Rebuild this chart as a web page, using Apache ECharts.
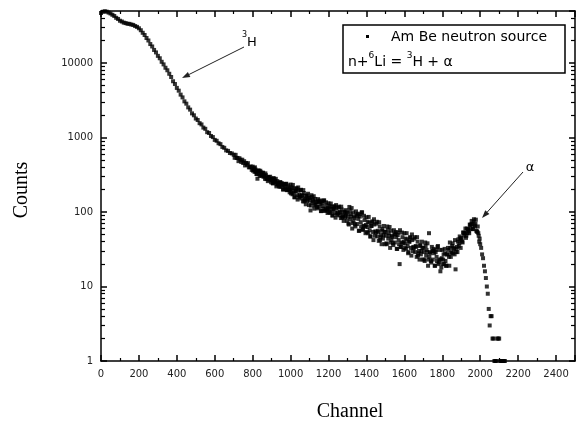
<!DOCTYPE html>
<html><head><meta charset="utf-8">
<script src="https://cdn.jsdelivr.net/npm/echarts@6/dist/echarts.min.js"></script>
<style>html,body{margin:0;padding:0;background:#fff}#c{width:577px;height:423px}</style>
</head><body><div id="c"></div>
<script>
// Channel 0..690, every 10 channels
const startA = 0, stepA = 10;
const countsA = [47000,48800,49600,49000,47600,46300,44500,42900,40500,39100,
  37000,36100,34900,34400,33700,33600,32900,32500,31400,30600,
  29300,27600,25500,23800,21700,20100,18000,16700,15000,13900,
  12500,11600,10400,9600,8650,8000,7180,6500,5700,5230,
  4640,4260,3770,3460,3060,2850,2540,2370,2110,1990,
  1800,1720,1560,1500,1360,1310,1180,1150,1050,1015,
  930,905,838,816,748,728,672,662,620,612];
// Channel 700..2130, every 5 channels
const startB = 700, stepB = 5;
const countsB = [
  587,535,586,532,533,482,528,504,470,504,
  455,481,422,456,432,453,398,400,409,368,
  407,370,346,372,324,280,361,325,358,308,
  310,336,309,279,312,281,260,295,275,280,
  278,245,286,250,255,221,260,245,223,253,
  219,243,201,232,217,238,197,203,214,184,
  234,193,173,206,158,192,209,168,214,157,
  163,199,168,139,180,145,127,167,147,157,
  154,105,168,133,140,111,150,136,117,149,
  117,143,103,133,120,143,104,110,123,97,
  131,109,97,117,90,110,120,97,124,92,
  96,118,100,83,108,87,76,101,89,95,
  98,70,117,80,87,60,99,87,68,102,
  69,95,56,87,73,99,58,65,78,52,
  85,63,52,72,47,65,75,54,80,48,
  53,74,56,41,64,46,37,59,49,54,
  54,38,64,44,48,33,56,48,38,57,
  39,54,32,49,42,20,34,39,46,31,
  52,38,32,43,28,40,46,33,50,30,
  33,46,35,25,40,28,23,36,30,33,
  33,23,39,26,29,19,52,29,22,34,
  23,32,19,29,25,34,20,23,16,18,
  31,23,20,28,19,27,33,25,39,25,
  29,38,33,27,17,32,29,43,38,44,
  45,40,53,48,52,45,60,59,55,68,
  60,76,59,74,66,70,56,54,52,40,
  37,33,27,24,19,16,13,10,8,5,
  3,4,4,2,2,1,1,1,2,2,
  2,1,1,1,1,1,1];
// Channel 802..1997, every 5 channels (interleaved readings)
const startC = 802, stepC = 5;
const countsC = [
  359,387,398,349,325,353,359,305,343,319,
  337,297,306,330,277,286,294,272,298,251,
  266,242,279,265,279,234,236,243,218,247,
  240,231,201,238,207,240,197,228,200,202,
  178,213,231,180,158,192,205,147,194,170,
  196,152,165,197,139,151,164,141,176,124,
  142,122,159,147,163,123,125,134,112,140,
  136,129,103,139,111,143,104,135,109,113,
  100,120,130,102,90,110,117,84,112,99,
  115,90,98,118,84,90,99,85,106,76,
  86,68,105,94,113,71,75,83,64,92,
  89,81,56,93,64,99,58,89,64,67,
  54,74,86,57,47,65,73,42,68,55,
  70,47,54,73,42,49,56,44,65,37,
  48,37,58,52,63,39,42,46,36,51,
  50,46,32,53,37,57,34,53,38,40,
  33,44,52,35,29,40,45,26,42,34,
  44,29,34,46,26,30,35,27,40,23,
  29,22,35,31,38,23,25,28,21,30,
  30,28,19,31,22,35,21,31,23,24,
  20,27,32,22,19,27,31,19,33,28,
  35,28,32,42,29,34,40,35,47,33,
  42,39,53,52,60,48,52,58,52,67,
  68,69,59,80,64,79,55,64,48,44];
const seriesName = 'Am Be neutron source';
const yMin = 1, yMax = 50000;

const data = [];
countsA.forEach((v, i) => data.push([startA + i * stepA, v]));
countsB.forEach((v, i) => data.push([startB + i * stepB, v]));
countsC.forEach((v, i) => data.push([startC + i * stepC, v]));

const lineSt = {color: '#000', width: 1.5};
const lblFont = {fontFamily: 'DejaVu Sans', fontSize: 10, color: '#222', formatter: v => String(v)};

function xAx(pos, labels) {
  return {type: 'value', position: pos, min: 0, max: 2500, interval: 200,
    axisLine: {show: true, onZero: false, lineStyle: lineSt},
    axisTick: {show: true, inside: true, length: 6, lineStyle: {color: '#000', width: 1.5}},
    minorTick: {show: true, splitNumber: 2, length: 3, lineStyle: {color: '#000', width: 1.2}},
    axisLabel: Object.assign({show: labels, margin: 8, showMaxLabel: false}, lblFont),
    splitLine: {show: false}, minorSplitLine: {show: false}};
}
function yAx(pos, labels) {
  return {type: 'log', logBase: 10, position: pos, min: yMin, max: yMax,
    axisLine: {show: true, onZero: false, lineStyle: lineSt},
    axisTick: {show: true, inside: true, length: 6, lineStyle: {color: '#000', width: 1.5}},
    minorTick: {show: true, splitNumber: 9, length: 4, lineStyle: {color: '#000', width: 1.2}},
    axisLabel: Object.assign({show: labels, margin: 8, showMaxLabel: false}, lblFont),
    splitLine: {show: false}, minorSplitLine: {show: false}};
}

function arrow(x1, y1, x2, y2) {
  const dx = x2 - x1, dy = y2 - y1, len = Math.hypot(dx, dy);
  const ux = dx / len, uy = dy / len, bx = x2 - 8 * ux, by = y2 - 8 * uy, px = -uy * 2.8, py = ux * 2.8;
  return [
    {type: 'line', shape: {x1: x1, y1: y1, x2: bx, y2: by}, style: {stroke: '#222', lineWidth: 1}},
    {type: 'polygon', shape: {points: [[x2, y2], [bx + px, by + py], [bx - px, by - py]]}, style: {fill: '#222'}}
  ];
}

const chart = echarts.init(document.getElementById('c'), null, {renderer: 'canvas'});
chart.setOption({
  animation: false,
  backgroundColor: '#fff',
  grid: {left: 101, right: 2, top: 11, bottom: 62},
  xAxis: [xAx('bottom', true), xAx('top', false)],
  yAxis: [yAx('left', true), yAx('right', false)],
  series: [{
    name: seriesName, type: 'scatter', xAxisIndex: 0, yAxisIndex: 0,
    symbol: 'rect', symbolSize: 4, itemStyle: {color: '#000'}, data: data, silent: true
  }],
  graphic: [
    {type: 'rect', shape: {x: 343, y: 25, width: 222, height: 48}, style: {fill: '#fff', stroke: '#000', lineWidth: 1.5}, z: 10},
    {type: 'rect', shape: {x: 366, y: 35, width: 3, height: 3}, style: {fill: '#000'}, z: 11},
    {type: 'text', x: 391, y: 37, z: 11, style: {text: seriesName, fontFamily: 'DejaVu Sans', fontSize: 14, fill: '#000', verticalAlign: 'middle'}},
    {type: 'text', x: 348, y: 60, z: 11, style: {
      text: '{a|n+}{s|6}{a|Li = }{s|3}{a|H + α}', verticalAlign: 'middle',
      rich: {a: {fontFamily: 'DejaVu Sans', fontSize: 14, fill: '#000', lineHeight: 18, verticalAlign: 'bottom'},
             s: {fontFamily: 'DejaVu Sans', fontSize: 9, fill: '#000', lineHeight: 18, verticalAlign: 'top'}}}},
    {type: 'text', x: 242, y: 40, z: 11, style: {
      text: '{s|3}{a|H}', verticalAlign: 'middle',
      rich: {a: {fontFamily: 'DejaVu Sans', fontSize: 13, fill: '#000', lineHeight: 18, verticalAlign: 'bottom'},
             s: {fontFamily: 'DejaVu Sans', fontSize: 8, fill: '#000', lineHeight: 18, verticalAlign: 'top'}}}},
    {type: 'text', x: 530, y: 168, z: 11, style: {text: 'α', fontFamily: 'DejaVu Sans', fontSize: 13, fill: '#000', align: 'center', verticalAlign: 'middle'}},
    ...arrow(244, 47, 182, 78),
    ...arrow(523, 172, 482, 218),
    {type: 'text', x: 22, y: 190, rotation: Math.PI / 2, style: {text: 'Counts', fontFamily: 'Liberation Serif', fontSize: 20, fill: '#000', align: 'center', verticalAlign: 'middle'}},
    {type: 'text', x: 350, y: 412, style: {text: 'Channel', fontFamily: 'Liberation Serif', fontSize: 20, fill: '#000', align: 'center', verticalAlign: 'middle'}}
  ]
});
</script></body></html>
